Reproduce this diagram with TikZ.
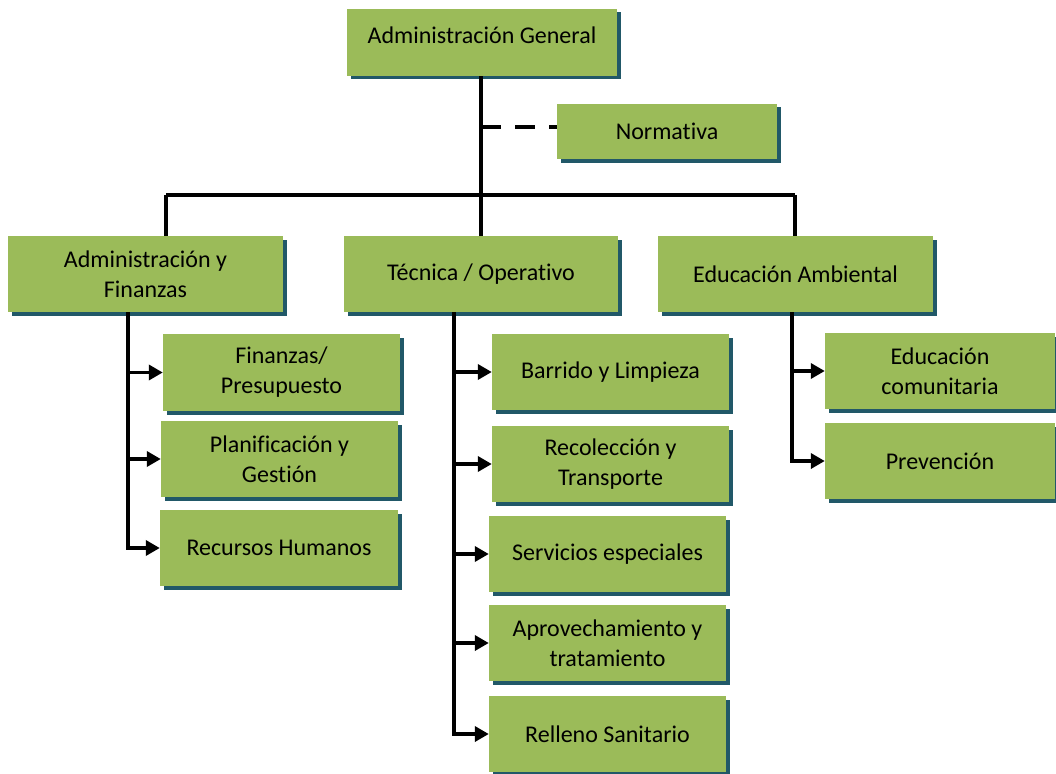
\documentclass[tikz,border=0pt]{standalone}
\usepackage{fontspec}
\setmainfont{Carlito}[Ligatures=NoCommon]
\usepackage{tikz}
\usetikzlibrary{shadows}
\usetikzlibrary{positioning, arrows.meta}
\definecolor{boxgreen}{HTML}{9BBB59}
\definecolor{shadowteal}{HTML}{215868}

\begin{document}
\begin{tikzpicture}[x=1pt, y=-1pt, >={Triangle[length=14pt, width=15pt]},
    unit/.style={rectangle, fill=boxgreen, inner sep=0pt, align=center,
        font=\fontsize{24}{30}\selectfont,
        drop shadow={shadow xshift=3.5pt, shadow yshift=-3.5pt, fill=shadowteal, opacity=1}},
    link/.style={line width=3.6pt}]
                \useasboundingbox (0,0) rectangle (1056,773);

                % top level
                \node[unit, minimum width=270pt, minimum height=67pt] (ag) at (482,42.5) {};
                \node[font=\fontsize{24}{30}\selectfont] (agtext) at (482,35) {Administración General};
                \node[unit, minimum width=220pt, minimum height=55pt] (norm) at (667,131.5) {Normativa};

                % second level
                \node[unit, minimum width=275pt, minimum height=76pt] (adm) at (145.5,274) {Administración y\\Finanzas};
                \node[unit, minimum width=274pt, minimum height=76pt] (tec) at (481,274) {Técnica / Operativo};
                \node[unit, minimum width=275pt, minimum height=76pt] (edu) at (795.5,274) {Educación Ambiental};

                % Administración y Finanzas
                \node[unit, minimum width=237pt, minimum height=77pt] (fin) at (281.5,372.5) {Finanzas/\\Presupuesto};
                \node[unit, minimum width=237pt, minimum height=76pt] (pla) at (279.5,459) {Planificación y\\Gestión};
                \node[unit, minimum width=238pt, minimum height=76pt] (rrhh) at (279,548) {Recursos Humanos};

                % Técnica / Operativo
                \node[unit, minimum width=237pt, minimum height=76pt] (bar) at (610.5,372) {Barrido y Limpieza};
                \node[unit, minimum width=237pt, minimum height=76pt] (rec) at (610.5,464) {Recolección y\\Transporte};
                \node[unit, minimum width=237pt, minimum height=76pt] (ser) at (607.5,554) {Servicios especiales};
                \node[unit, minimum width=237pt, minimum height=76pt] (apr) at (607.5,643) {Aprovechamiento y\\tratamiento};
                \node[unit, minimum width=237pt, minimum height=76pt] (rel) at (607.5,734) {Relleno Sanitario};

                % Educación Ambiental
                \node[unit, minimum width=230pt, minimum height=76pt] (com) at (940,371) {Educación\\comunitaria};
                \node[unit, minimum width=230pt, minimum height=76pt] (pre) at (940,461) {Prevención};

                % trunk points
                \coordinate (busl) at (166,195);
                \coordinate (busr) at (795,195);
                \coordinate (normtap) at (481,127);
                \coordinate (admtrunk) at (128,312);
                \coordinate (tectrunk) at (454,312);
                \coordinate (edutrunk) at (792,312);

                % main tree
                \draw[link] (ag.south -| tec.north) -- (tec.north);
                \draw[link, dash pattern=on 20pt off 14pt] (normtap) -- (normtap -| norm.west);
                \draw[link] (busl) -- (busr);
                \draw[link] (busl) -- (busl |- adm.north);
                \draw[link] (busr) -- (busr |- edu.north);

                % branches with arrows
                \draw[link,->] (admtrunk) |- (fin.west);
                \draw[link,->] (admtrunk) |- (pla.west);
                \draw[link,->] (admtrunk) |- (rrhh.west);

                \draw[link,->] (tectrunk) |- (bar.west);
                \draw[link,->] (tectrunk) |- (rec.west);
                \draw[link,->] (tectrunk) |- (ser.west);
                \draw[link,->] (tectrunk) |- (apr.west);
                \draw[link,->] (tectrunk) |- (rel.west);

                \draw[link,->] (edutrunk) |- (com.west);
                \draw[link,->] (edutrunk) |- (pre.west);

            \end{tikzpicture}
\end{document}
